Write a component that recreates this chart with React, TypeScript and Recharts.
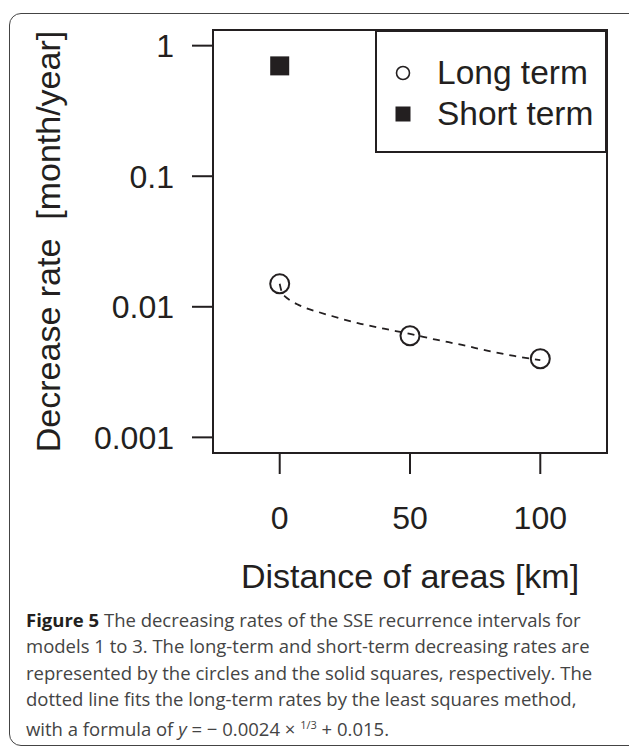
import { ComposedChart, Line, Scatter, XAxis, YAxis, ReferenceArea, Legend } from "recharts"

// Long-term rates (open circles)
const distances = [0, 50, 100]
const longTerm = [0.015, 0.006, 0.004]

// Short-term rate (filled square)
const shortDistances = [0]
const shortTerm = [0.7]

// Dashed least-squares fit
const fitX = [0, 1, 2, 4, 7, 10, 15, 20, 30, 40, 50, 60, 70, 80, 90, 100]
const fitY = [0.015, 0.0126, 0.012, 0.0112, 0.0104, 0.0098, 0.0091, 0.0085, 0.0075, 0.0068, 0.0062, 0.0056, 0.0051, 0.0046, 0.0042, 0.0039]

const xTicks = [0, 50, 100]
const yTicks = [0.001, 0.01, 0.1, 1]
const yTickLabels = ["0.001", "0.01", "0.1", "1"]
const xDomain = [-25.6, 125.6]
const yDomain = [0.000759, 1.318]

const legendNames = ["Long term", "Short term"]

const INK = "#231f20"
const FONT = "'Liberation Sans', Arial, Helvetica, sans-serif"

const longData = distances.map((x, i) => ({ x, y: longTerm[i] }))
const shortData = shortDistances.map((x, i) => ({ x, y: shortTerm[i] }))
const fitData = fitX.map((x, i) => ({ x, y: fitY[i] }))

const OpenCircle = (props: any) => (
  <circle cx={props.cx} cy={props.cy} r={9.5} fill="none" stroke={INK} strokeWidth={2} />
)

const FilledSquare = (props: any) => (
  <rect x={props.cx - 9.5} y={props.cy - 9.5} width={19} height={19} fill={INK} />
)

const YTitle = ({ viewBox }: any) => {
  const x = viewBox.x + 60
  const y = viewBox.y + viewBox.height / 2
  return (
    <text x={x} y={y} transform={`rotate(-90, ${x}, ${y})`} textAnchor="middle" fontSize={34} fill={INK} fontFamily={FONT} style={{ whiteSpace: "pre" }}>
      {"Decrease rate  [month/year]"}
    </text>
  )
}

const XTitle = ({ viewBox }: any) => (
  <text x={viewBox.x + viewBox.width / 2} y={viewBox.y + 135} textAnchor="middle" fontSize={34} fill={INK} fontFamily={FONT}>
    Distance of areas [km]
  </text>
)

const LegendBox = () => (
  <div style={{ width: 232, height: 123, border: `2px solid ${INK}`, boxSizing: "border-box", background: "#fff", position: "relative", fontFamily: FONT }}>
    {legendNames.map((name, i) => (
      <div key={name} style={{ position: "absolute", left: 0, top: i === 0 ? 20 : 61, height: 42, display: "flex", alignItems: "center" }}>
        <svg width={60} height={42} style={{ display: "block" }}>
          {i === 0 ? (
            <circle cx={26} cy={21} r={6.5} fill="none" stroke={INK} strokeWidth={1.6} />
          ) : (
            <rect x={18.5} y={13.5} width={15} height={15} fill={INK} />
          )}
        </svg>
        <span style={{ fontSize: 33.5, color: INK, whiteSpace: "nowrap", lineHeight: "42px" }}>{name}</span>
      </div>
    ))}
  </div>
)

const captionLines = [
  "The decreasing rates of the SSE recurrence intervals for",
  "models 1 to 3. The long-term and short-term decreasing rates are",
  "represented by the circles and the solid squares, respectively. The",
  "dotted line fits the long-term rates by the least squares method,",
]

export default function App() {
  return (
    <div style={{ position: "absolute", left: 0, top: 0, width: 629, height: 746, background: "#fff", overflow: "hidden" }}>
      <div style={{ position: "absolute", left: 9, top: 13, width: 640, height: 733, border: "1.5px solid #444", borderRadius: 12, boxSizing: "border-box" }} />
      <div style={{ position: "absolute", left: 0, top: 0 }}>
        <ComposedChart width={629} height={600} margin={{ top: 30, right: 22, left: 0, bottom: 0 }}>
          <XAxis
            dataKey="x"
            type="number"
            domain={xDomain}
            ticks={xTicks}
            allowDataOverflow
            axisLine={false}
            tickSize={21}
            tickMargin={32}
            tickLine={{ stroke: INK, strokeWidth: 2 }}
            tick={{ fontSize: 32, fill: INK, fontFamily: FONT }}
            height={147}
            label={<XTitle />}
          />
          <YAxis
            dataKey="y"
            type="number"
            scale="log"
            domain={yDomain}
            ticks={yTicks}
            allowDataOverflow
            axisLine={false}
            tickSize={21}
            tickMargin={18}
            tickLine={{ stroke: INK, strokeWidth: 2 }}
            tick={{ fontSize: 32, fill: INK, fontFamily: FONT }}
            tickFormatter={(v: number) => yTickLabels[yTicks.indexOf(v)] ?? String(v)}
            width={213}
            label={<YTitle />}
          />
          <ReferenceArea x1={xDomain[0]} x2={xDomain[1]} y1={yDomain[0]} y2={yDomain[1]} fill="none" stroke={INK} strokeWidth={2} ifOverflow="visible" />
          <Line
            data={fitData}
            dataKey="y"
            type="monotone"
            stroke={INK}
            strokeWidth={1.8}
            strokeDasharray="7 6"
            dot={false}
            activeDot={false}
            legendType="none"
            isAnimationActive={false}
          />
          <Scatter name="Long term" data={longData} dataKey="y" shape={OpenCircle} isAnimationActive={false} />
          <Scatter name="Short term" data={shortData} dataKey="y" shape={FilledSquare} isAnimationActive={false} />
          <Legend
            layout="horizontal"
            verticalAlign="middle"
            align="center"
            content={() => <LegendBox />}
            wrapperStyle={{ position: "absolute", left: 375, top: 30, width: 232, height: 123, margin: 0, padding: 0 }}
          />
        </ComposedChart>
      </div>
      <div
        style={{
          position: "absolute",
          left: 26,
          top: 607,
          fontFamily: "'Open Sans', sans-serif",
          fontSize: 18.5,
          lineHeight: "26.3px",
          color: "#444",
          whiteSpace: "nowrap",
        }}
      >
        {captionLines.map((line, i) => (
          <div key={i}>
            {i === 0 && <b style={{ color: INK }}>Figure 5 </b>}
            {line}
          </div>
        ))}
        <div>
          with a formula of <i>y</i> = − 0.0024 × <sup style={{ fontSize: 11, verticalAlign: "0.6em" }}>1/3</sup> + 0.015.
        </div>
      </div>
    </div>
  )
}
